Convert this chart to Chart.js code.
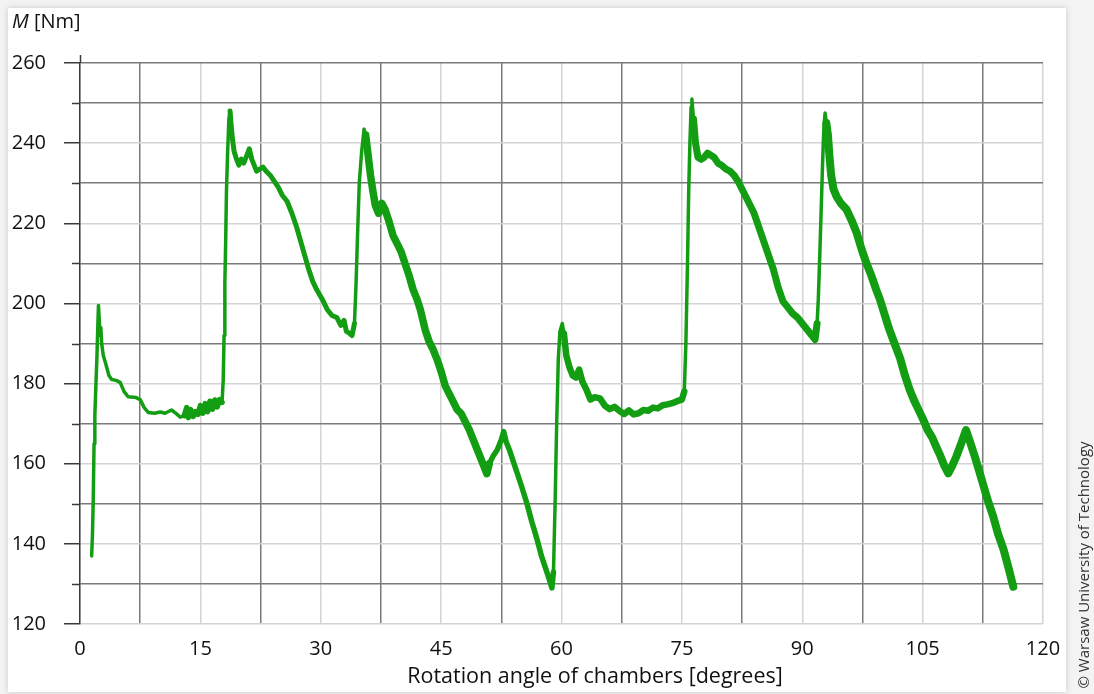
<!DOCTYPE html>
<html>
<head>
<meta charset="utf-8">
<script src="https://cdn.jsdelivr.net/npm/chart.js@4.4.0/dist/chart.umd.min.js"></script>
<style>
  body { margin: 0; background: #f3f3f3; font-family: "Open Sans", sans-serif; }
  #card { position: absolute; left: 8px; top: 8px; width: 1058px; height: 684px; background: #fff;
          box-shadow: 0 0 6px rgba(0,0,0,0.18); }
  #wrap { position: absolute; left: 0; top: 0; width: 1094px; height: 694px; }
  #yTitle { position: absolute; left: 12px; top: 7px; font-size: 20px; color: #111; }
  #copy { position: absolute; left: 1083px; top: 565px; width: 270px; font-size: 15px; color: #333;
          transform: translate(-50%, -50%) rotate(-90deg); text-align: center; white-space: nowrap; }
</style>
</head>
<body>
<div id="card"></div>
<div id="wrap"><canvas id="torqueChart" width="1094" height="694"></canvas></div>
<div id="yTitle"><i>M</i> [Nm]</div>
<div id="copy">© Warsaw University of Technology</div>
<script>
// angle of rotation [degrees] and torque M [Nm]
const angle = [
  1.45, 1.55, 1.65, 1.75, 1.85, 1.95, 2.1, 2.2, 2.3, 2.4, 2.5, 2.6, 2.7, 2.9, 3.2, 3.6, 3.95, 4.5, 5.0, 5.5,
  6.0, 7.0, 7.5, 8.0, 8.5, 9.3, 10.0, 10.6, 11.4, 12.0, 12.5, 13.0, 13.3, 13.5, 13.8, 14.1, 14.4, 14.7, 15.0, 15.3,
  15.6, 15.9, 16.2, 16.5, 16.8, 17.1, 17.4, 17.7, 17.85, 17.95, 18.05, 18.15, 18.25, 18.4, 18.55, 18.7, 18.85, 19.0, 19.2, 19.5,
  19.8, 20.1, 20.4, 20.8, 21.1, 21.4, 21.7, 22.0, 22.4, 22.8, 23.2, 23.7, 24.2, 24.7, 25.2, 25.8, 26.4, 27.0, 27.5, 28.0,
  28.5, 29.0, 29.5, 30.2, 30.8, 31.4, 32.0, 32.5, 32.9, 33.2, 33.6, 33.9, 34.2, 34.4, 34.6, 34.8, 35.1, 35.4, 35.6, 35.9,
  36.2, 36.5, 36.8, 37.2, 37.6, 38.0, 38.5, 39.0, 39.5, 40.0, 40.5, 41.0, 41.5, 42.0, 42.4, 43.0, 43.5, 44.0, 44.5, 45.0,
  45.5, 46.0, 46.5, 47.0, 47.5, 48.0, 48.5, 49.0, 49.5, 50.0, 50.4, 50.7, 51.0, 51.5, 52.0, 52.5, 52.8, 53.1, 53.5, 54.0,
  54.5, 55.0, 55.7, 56.3, 56.9, 57.5, 58.0, 58.5, 58.8, 59.0, 59.2, 59.4, 59.6, 59.8, 60.1, 60.3, 60.6, 61.0, 61.4, 61.8,
  62.2, 62.6, 63.1, 63.6, 64.1, 64.8, 65.4, 66.0, 66.6, 67.2, 67.8, 68.4, 69.0, 69.6, 70.2, 70.8, 71.4, 72.0, 72.6, 73.2,
  73.8, 74.4, 75.0, 75.3, 75.5, 75.7, 75.85, 76.0, 76.15, 76.25, 76.45, 76.7, 77.0, 77.4, 77.8, 78.2, 78.6, 79.0, 79.5, 80.0,
  80.5, 81.0, 81.5, 82.0, 82.5, 83.0, 83.5, 84.0, 84.6, 85.2, 85.8, 86.4, 87.0, 87.6, 88.2, 88.8, 89.4, 90.0, 90.6, 91.2,
  91.6, 91.85, 92.0, 92.2, 92.4, 92.55, 92.7, 92.85, 93.0, 93.2, 93.4, 93.6, 93.9, 94.3, 94.8, 95.5, 96.2, 96.8, 97.4, 98.0,
  98.6, 99.2, 99.7, 100.3, 100.9, 101.5, 102.2, 102.8, 103.4, 104.0, 104.6, 105.1, 105.6, 106.2, 106.7, 107.2, 107.7, 108.2, 108.7, 109.2,
  109.8, 110.4, 110.9, 111.5, 112.0, 112.5, 113.1, 113.8, 114.4, 115.1, 115.7, 116.3
];
const torque = [
  137, 142, 151, 165, 172, 178, 186, 193, 199.5, 196, 192, 194, 190, 187, 185, 182, 181, 180.8, 180.3, 178,
  176.7, 176.5, 176, 174, 172.8, 172.6, 172.9, 172.6, 173.4, 172.5, 171.6, 172, 174, 171.5, 173.5, 171.8, 173, 172.3, 174.5, 172.6,
  175, 173, 175.6, 173.6, 175.9, 174.2, 176, 175.3, 181, 192, 205, 215, 228, 238, 246, 248, 244, 241, 238, 236,
  234.5, 236, 235, 237, 238.6, 236, 234.5, 233, 233.5, 234, 233, 232, 230.5, 229, 227, 225.5, 222.5, 219, 215.5, 212,
  208.5, 205.5, 203.4, 201, 198.5, 197, 196.5, 194.5, 195.8, 193, 192.5, 192, 195, 205, 218, 230, 238, 243.5, 242, 237,
  232, 228, 224.5, 222.5, 225, 223.5, 220.5, 217, 215, 213, 210, 207, 203.5, 201, 198.5, 193.5, 190.5, 188.5, 186, 183,
  179.5, 177.5, 175.5, 173.5, 172.5, 170.5, 168.5, 166, 163.5, 161, 159, 157.5, 160, 162, 163.5, 166, 168, 165.5, 163.5, 160.5,
  157.5, 154.5, 150, 145.5, 141.5, 137, 134, 131, 129, 133, 150, 170, 186, 193, 195, 192.5, 187, 184, 182, 181.5,
  183.5, 180.5, 178.5, 176, 176.6, 176.3, 174.5, 173.6, 174.2, 173.2, 172.4, 173.3, 172.3, 172.6, 173.4, 173.2, 174, 173.8, 174.6, 174.8,
  175.1, 175.6, 176, 178, 190, 210, 228, 240, 249, 251, 246, 240, 236.5, 236, 236.5, 237.5, 237, 236.5, 235, 234.4,
  233.5, 233, 232, 230.5, 228.5, 226.5, 224.5, 222.5, 219, 215.5, 212, 208.5, 204, 200.5, 199, 197.5, 196.5, 195, 193.5, 192,
  191, 195, 201, 213, 226, 236, 244, 247.5, 245, 242, 236.5, 232, 228.5, 226.6, 225, 223.5, 220.5, 217.5, 213.5, 210,
  207, 203.5, 200.9, 197, 193.2, 190, 186.3, 182, 178.4, 175.5, 173, 170.9, 168.5, 166.5, 164.2, 162, 159.5, 157.6, 159.5, 161.8,
  165, 168.4, 165.5, 161.8, 158.5, 155.1, 151, 146.8, 142.5, 138.5, 134, 129.3
];
const xTickLabels = [0, 15, 30, 45, 60, 75, 90, 105, 120];
const yTickLabels = [120, 140, 160, 180, 200, 220, 240, 260];

const LIGHT = '#d4d4d4';
const DARK = '#7a7a7a';
const AXIS = '#3a3a3a';
const FONT = '"Open Sans", sans-serif';

// the measured signal is noisy: draw the trace thicker where the noise band is wide
// [from angle, to angle, line width]
const noiseBands = [
  [12.8, 17.7, 5.5], [18.6, 22.5, 5], [22.5, 34.2, 5], [35.5, 51, 7.5], [51, 59, 5.5],
  [60.3, 75.3, 6.5], [76.3, 91.8, 7], [93, 117, 8]
];
function traceWidth(x) {
  for (const [a, b, w] of noiseBands) if (x >= a && x < b) return w;
  return 3.5;
}

const points = angle.map((a, i) => ({ x: a, y: torque[i] }));

// short ticks for the unlabelled 10 Nm lines, x-axis title
const extras = {
  id: 'extras',
  afterDraw(chart) {
    const c = chart.ctx;
    const ys = chart.scales.y;
    c.save();
    c.strokeStyle = AXIS;
    c.lineWidth = 1.5;
    for (let v = 130; v < 260; v += 20) {
      const py = Math.round(ys.getPixelForValue(v)) + 0.5;
      c.beginPath();
      c.moveTo(ys.right - 8, py);
      c.lineTo(ys.right, py);
      c.stroke();
    }
    const left = chart.chartArea.left + 0.5;
    c.beginPath();
    c.moveTo(left, chart.chartArea.top - 8);
    c.lineTo(left, chart.chartArea.top);
    c.stroke();
    c.fillStyle = '#111';
    c.font = '21.5px ' + FONT;
    c.textAlign = 'center';
    c.textBaseline = 'middle';
    c.fillText('Rotation angle of chambers [degrees]', 595, 677);
    c.restore();
  }
};

new Chart(document.getElementById('torqueChart'), {
  type: 'line',
  data: {
    datasets: [{
      data: points,
      borderColor: '#139d13',
      borderWidth: 3.5,
      borderJoinStyle: 'round',
      borderCapStyle: 'round',
      pointRadius: 0,
      tension: 0,
      fill: false,
      segment: {
        borderWidth: ctx => traceWidth(ctx.p0.parsed.x)
      }
    }]
  },
  options: {
    responsive: false,
    animation: false,
    layout: { padding: { left: 0, top: 63, right: 51, bottom: 0 } },
    plugins: { legend: { display: false }, tooltip: { enabled: false } },
    scales: {
      x: {
        type: 'linear',
        min: 0, max: 120,
        afterFit(s) { s.height = 70; },
        ticks: {
          stepSize: 7.5,
          autoSkip: false,
          maxRotation: 0,
          padding: 13,
          color: '#111',
          font: { family: FONT, size: 20 },
          callback: v => xTickLabels.includes(v) ? String(v) : ''
        },
        grid: {
          drawTicks: false,
          lineWidth: 1.5,
          color: c => (c.tick && xTickLabels.includes(c.tick.value)) ? LIGHT : DARK
        },
        border: { display: false }
      },
      y: {
        min: 120, max: 260,
        afterFit(s) { s.width = 80; },
        ticks: {
          stepSize: 10,
          padding: 18,
          color: '#111',
          font: { family: FONT, size: 20 },
          callback: v => yTickLabels.includes(v) ? String(v) : ''
        },
        grid: {
          tickLength: 16,
          lineWidth: 1.5,
          color: c => (c.tick && (c.tick.value === 260 || !yTickLabels.includes(c.tick.value))) ? DARK : LIGHT,
          tickColor: c => (c.tick && yTickLabels.includes(c.tick.value)) ? AXIS : 'rgba(0,0,0,0)'
        },
        border: { display: true, color: AXIS, width: 1.5 }
      }
    }
  },
  plugins: [extras]
});
</script>
</body>
</html>
